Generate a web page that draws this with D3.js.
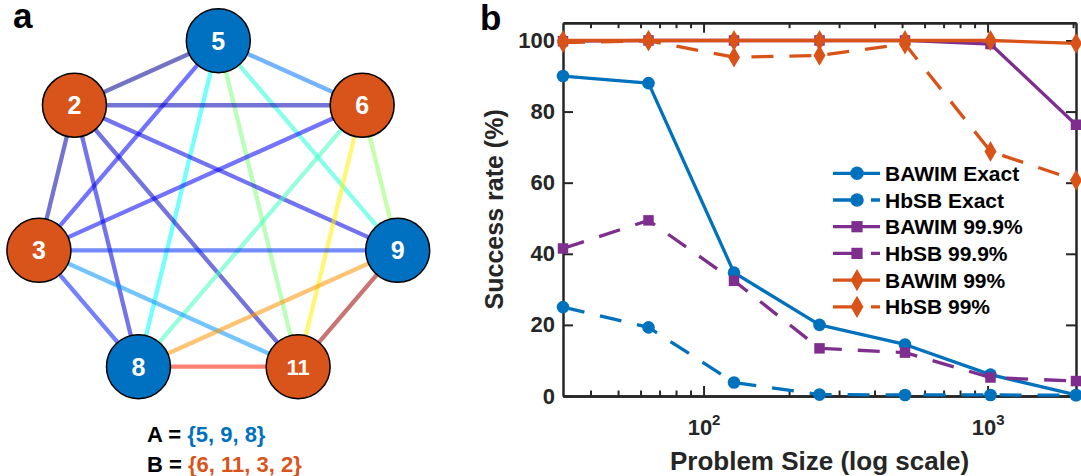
<!DOCTYPE html>
<html>
<head>
<meta charset="utf-8">
<script src="https://cdnjs.cloudflare.com/ajax/libs/d3/7.8.5/d3.min.js"></script>
<style>
  body { margin: 0; background: #fff; }
  svg { display: block; }
  text { font-family: "Liberation Sans", Arial, sans-serif; font-weight: bold; }
</style>
</head>
<body>
<svg id="fig" width="1081" height="476"></svg>
<script>
// ---- panel a data: nodes placed clockwise from the top
var nodeLabels = ["5", "6", "9", "11", "8", "3", "2"],
    nodeGroups = ["A", "B", "A", "B", "A", "B", "B"];

// edges of the complete graph, weight
var edgeSource = ["5", "2", "5", "5", "5", "5", "5", "2", "2", "2", "2", "6", "6", "6", "6", "3", "3", "3", "9", "9", "8"],
    edgeTarget = ["2", "3", "6", "3", "8", "11", "9", "6", "8", "11", "9", "3", "8", "11", "9", "9", "8", "11", "8", "11", "11"],
    edgeWeight = [0.02, 0.04, 0.24, 0.125, 0.375, 0.5, 0.41, 0.05, 0.09, 0.07, 0.1, 0.12, 0.44, 0.64, 0.52, 0.17, 0.15, 0.27, 0.73, 0.97, 0.85];

var setA = "{5, 9, 8}",
    setB = "{6, 11, 3, 2}";

// ---- panel b data
var problemSizes = [32, 64, 128, 256, 512, 1024, 2048];
var bawimExact = [90, 88, 34.7, 20, 14.5, 6, 0.3],
    hbsbExact  = [25, 19.3, 3.8, 0.4, 0.3, 0.3, 0.2],
    bawim999   = [99.8, 100, 100, 100, 100, 99, 76.3],
    hbsb999    = [41.5, 49.4, 32.4, 13.4, 12.2, 5.2, 4.2],
    bawim99    = [100, 100, 100, 100, 100, 100, 99.2],
    hbsb99     = [99.4, 99.9, 95.3, 95.8, 99, 68.8, 60.7];

var seriesNames = ["BAWIM Exact", "HbSB Exact", "BAWIM 99.9%", "HbSB 99.9%", "BAWIM 99%", "HbSB 99%"];
var yTicks = [0, 20, 40, 60, 80, 100],
    xMajorTicks = [100, 1000],
    xMinorTicks = [40, 50, 60, 70, 80, 90, 200, 300, 400, 500, 600, 700, 800, 900, 2000];

var blue = "#0072bd", purple = "#7e2f8e", orange = "#d95319", axisColor = "#262626";
var nodeBlue = "#0070c0", nodeOrange = "#d9541a";

var svg = d3.select("#fig");

// ================= panel a =================
var cx = 218.3, cy = 212.2, rx = 184, ry = 171.5, nodeR = 32;

var angle = d3.scaleLinear().domain([0, nodeLabels.length]).range([-Math.PI / 2, 3 * Math.PI / 2]);
var pos = {};
nodeLabels.forEach(function(d, i) {
  pos[d] = { x: cx + rx * Math.cos(angle(i)), y: cy + ry * Math.sin(angle(i)), group: nodeGroups[i] };
});

var jet = d3.scaleLinear()
    .domain([0, 0.125, 0.375, 0.625, 0.875, 1])
    .range(["#000080", "#0000ff", "#00ffff", "#ffff00", "#ff0000", "#800000"]);

var ga = svg.append("g");

ga.selectAll("line.edge")
  .data(edgeWeight)
  .enter().append("line")
    .attr("class", "edge")
    .attr("x1", function(d, i) { return pos[edgeSource[i]].x; })
    .attr("y1", function(d, i) { return pos[edgeSource[i]].y; })
    .attr("x2", function(d, i) { return pos[edgeTarget[i]].x; })
    .attr("y2", function(d, i) { return pos[edgeTarget[i]].y; })
    .attr("stroke", function(d) { return jet(d); })
    .attr("stroke-opacity", 0.55)
    .attr("stroke-width", 4.3);

var nodes = ga.selectAll("g.node")
  .data(nodeLabels)
  .enter().append("g")
    .attr("class", "node")
    .attr("transform", function(d) { return "translate(" + pos[d].x + "," + pos[d].y + ")"; });

nodes.append("circle")
    .attr("r", nodeR)
    .attr("fill", function(d) { return pos[d].group == "A" ? nodeBlue : nodeOrange; })
    .attr("stroke", "#000")
    .attr("stroke-width", 1.5);

nodes.append("text")
    .attr("text-anchor", "middle")
    .attr("dy", "0.36em")
    .attr("fill", "#fff")
    .style("font-size", function(d) { return d.length > 1 ? "22px" : "25px"; })
    .text(function(d) { return d; });

ga.append("text").attr("x", 13).attr("y", 28).style("font-size", "35px").text("a");

var setText = ga.append("g").style("font-size", "22px");
var ta = setText.append("text").attr("x", 147).attr("y", 442);
ta.append("tspan").attr("fill", "#000").text("A = ");
ta.append("tspan").attr("fill", nodeBlue).text(setA);
var tb = setText.append("text").attr("x", 147).attr("y", 472);
tb.append("tspan").attr("fill", "#000").text("B = ");
tb.append("tspan").attr("fill", nodeOrange).text(setB);

// ================= panel b =================
var plotLeft = 563, plotRight = 1076, plotTop = 22.7, plotBottom = 396;

var x = d3.scaleLog().domain([32, 2048]).range([plotLeft, plotRight]);
var y = d3.scaleLinear().domain([0, 105]).range([plotBottom, plotTop]);

var gb = svg.append("g");

gb.append("text").attr("x", 480).attr("y", 30).style("font-size", "35px").text("b");

function styleAxis(g) {
  g.select(".domain").attr("stroke", axisColor).attr("stroke-width", 2.5);
  g.selectAll(".tick line").attr("stroke", axisColor).attr("stroke-width", 2);
  g.selectAll(".tick text").attr("fill", axisColor)
    .style("font-family", "'Liberation Sans', Arial, sans-serif")
    .style("font-weight", "bold").style("font-size", "22px");
}

// left / right
gb.append("g").attr("transform", "translate(" + plotLeft + ",0)")
  .call(d3.axisLeft(y).tickValues(yTicks).tickSize(-10).tickSizeOuter(0).tickPadding(8))
  .call(styleAxis);
gb.append("g").attr("transform", "translate(" + plotRight + ",0)")
  .call(d3.axisRight(y).tickValues(yTicks).tickSize(-10).tickSizeOuter(0).tickFormat(""))
  .call(styleAxis);

// bottom / top, major and minor
var bottomAxis = gb.append("g").attr("transform", "translate(0," + plotBottom + ")")
  .call(d3.axisBottom(x).tickValues(xMajorTicks).tickSize(-10).tickSizeOuter(0).tickPadding(23))
  .call(styleAxis);
bottomAxis.selectAll(".tick text").each(function(d) {
  var t = d3.select(this);
  t.text("");
  t.append("tspan").text("10");
  t.append("tspan").attr("dy", -10).style("font-size", "15px").text(Math.round(Math.log10(d)));
});
gb.append("g").attr("transform", "translate(0," + plotBottom + ")")
  .call(d3.axisBottom(x).tickValues(xMinorTicks).tickSize(-5.5).tickSizeOuter(0).tickFormat(""))
  .call(styleAxis);
gb.append("g").attr("transform", "translate(0," + plotTop + ")")
  .call(d3.axisTop(x).tickValues(xMajorTicks).tickSize(-10).tickSizeOuter(0).tickFormat(""))
  .call(styleAxis);
gb.append("g").attr("transform", "translate(0," + plotTop + ")")
  .call(d3.axisTop(x).tickValues(xMinorTicks).tickSize(-5.5).tickSizeOuter(0).tickFormat(""))
  .call(styleAxis);

// axis titles
gb.append("text")
    .attr("transform", "translate(503," + ((plotTop + plotBottom) / 2) + ") rotate(-90)")
    .attr("text-anchor", "middle")
    .attr("fill", axisColor)
    .style("font-size", "25px")
    .text("Success rate (%)");
gb.append("text")
    .attr("x", (plotLeft + plotRight) / 2).attr("y", 470)
    .attr("text-anchor", "middle")
    .attr("fill", axisColor)
    .style("font-size", "26px")
    .text("Problem Size (log scale)");

// series
var seriesValues = [bawimExact, hbsbExact, bawim999, hbsb999, bawim99, hbsb99],
    seriesColors = [blue, blue, purple, purple, orange, orange],
    seriesDash = [null, "22,16", null, "22,16", null, "22,16"],
    seriesSymbol = [d3.symbolCircle, d3.symbolCircle, d3.symbolSquare, d3.symbolSquare, d3.symbolDiamond, d3.symbolDiamond],
    symbolSize = [125, 125, 110, 110, 125, 125];

var line = d3.line()
    .x(function(d) { return x(d[0]); })
    .y(function(d) { return y(d[1]); });

seriesValues.forEach(function(vals, s) {
  var pts = problemSizes.map(function(p, i) { return [p, vals[i]]; });
  var g = gb.append("g");
  g.append("path")
      .attr("d", line(pts))
      .attr("fill", "none")
      .attr("stroke", seriesColors[s])
      .attr("stroke-width", 3.3)
      .attr("stroke-linejoin", "round")
      .attr("stroke-dasharray", seriesDash[s]);
  g.selectAll("path.mk")
    .data(pts)
    .enter().append("path")
      .attr("class", "mk")
      .attr("transform", function(d) { return "translate(" + x(d[0]) + "," + y(d[1]) + ")"; })
      .attr("d", d3.symbol().type(seriesSymbol[s]).size(symbolSize[s]))
      .attr("fill", seriesColors[s]);
});

// legend
var legX0 = 833, legX1 = 880, legY0 = 173.3, legStep = 26.7;
var leg = gb.append("g");
seriesNames.forEach(function(name, s) {
  var yy = legY0 + s * legStep;
  leg.append("line")
      .attr("x1", legX0).attr("x2", legX1).attr("y1", yy).attr("y2", yy)
      .attr("stroke", seriesColors[s]).attr("stroke-width", 3.3)
      .attr("stroke-dasharray", seriesDash[s]);
  leg.append("path")
      .attr("transform", "translate(" + ((legX0 + legX1) / 2 + 0.5) + "," + yy + ")")
      .attr("d", d3.symbol().type(seriesSymbol[s]).size(symbolSize[s] * 1.15))
      .attr("fill", seriesColors[s]);
  leg.append("text")
      .attr("x", 885).attr("y", yy).attr("dy", "0.36em")
      .attr("fill", "#000")
      .style("font-size", "21px")
      .text(name);
});
</script>
</body>
</html>
